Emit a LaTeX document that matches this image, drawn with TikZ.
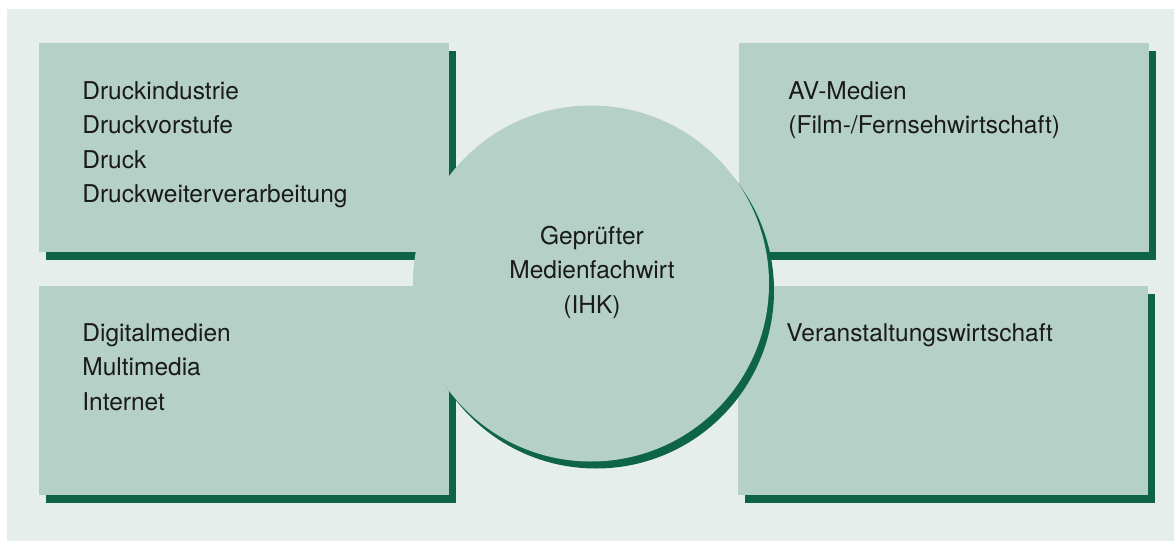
\documentclass[tikz,border=0pt]{standalone}
\usepackage{fontspec}
\setmainfont{TeX Gyre Heros}
\definecolor{paper}{HTML}{E5EEEB}
\definecolor{panel}{HTML}{B5D0C7}
\definecolor{deep}{HTML}{0E6447}
\definecolor{ink}{HTML}{1A1A1A}
\begin{document}
\begin{tikzpicture}[x=0.5pt,y=-0.5pt,
  field/.style={rectangle, fill=panel, minimum width=205pt, minimum height=104.5pt, inner sep=0pt, anchor=north west},
  fieldshadow/.style={field, fill=deep},
  hubdisk/.style={circle, fill=panel, minimum size=178pt, inner sep=0pt},
  entry/.style={anchor=base west, align=left, inner sep=0pt, text=ink, font=\fontsize{12.25pt}{17.25pt}\selectfont}]
\useasboundingbox (0,0) rectangle (1174,541);
\fill[paper] (7,9) rectangle (1174,541);
\foreach \name/\x/\y in {druck/39/43, av/739/43, digital/39/286, event/738/286} {
  \node[fieldshadow] (\name-shadow) at (\x+7,\y+8) {};
  \node[field] (\name) at (\x,\y) {};
}
\node[hubdisk, fill=deep] (hub-shadow) at (596,290.5) {};
\node[hubdisk] (hub) at (591,283.5) {};
\node[entry] (druck-text) at (82,202.5) {Druckindustrie\\Druckvorstufe\\Druck\\Druckweiterverarbeitung};
\node[entry] (av-text) at (788,133.5) {AV-Medien\\(Film-/Fernsehwirtschaft)};
\node[entry] (digital-text) at (82,410) {Digitalmedien\\Multimedia\\Internet};
\node[entry] (event-text) at (786,341) {Veranstaltungswirtschaft};
\node[entry, anchor=center, align=center] (hub-text) at (592,272) {Geprüfter\\Medienfachwirt\\(IHK)};
\end{tikzpicture}
\end{document}
